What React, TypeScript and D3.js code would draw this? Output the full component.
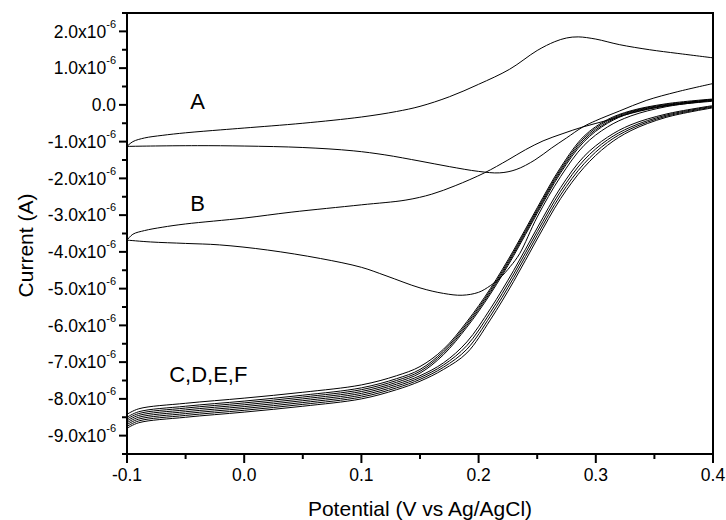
import React from 'react';
import * as d3 from 'd3';

const W = 726;
const H = 520;
const margin = { top: 13, right: 13, bottom: 66, left: 127 };

// axis ticks (current in units of 1e-6 A)
const xTicks = [-0.1, 0.0, 0.1, 0.2, 0.3, 0.4];
const xMinor = [-0.05, 0.05, 0.15, 0.25, 0.35];
const yTicks = [2, 1, 0, -1, -2, -3, -4, -5, -6, -7, -8, -9];
const yMinor = [2.5, 1.5, 0.5, -0.5, -1.5, -2.5, -3.5, -4.5, -5.5, -6.5, -7.5, -8.5, -9.5];

// curve A (potential V, current x1e-6 A)
const aForward = [
  [-0.1, -1.13], [-0.095, -1.0], [-0.085, -0.9], [-0.07, -0.83], [-0.05, -0.76], [-0.02, -0.68],
  [0, -0.63], [0.05, -0.5], [0.1, -0.33], [0.13, -0.18], [0.15, -0.04], [0.175, 0.22],
  [0.2, 0.56], [0.2265, 0.97], [0.25, 1.48], [0.265, 1.72], [0.275, 1.82], [0.285, 1.85],
  [0.3, 1.79], [0.32, 1.64], [0.346, 1.5], [0.37, 1.4], [0.4, 1.28],
];
const aReverse = [
  [-0.1, -1.13], [-0.08, -1.12], [-0.04, -1.11], [0, -1.12], [0.05, -1.16], [0.093, -1.25],
  [0.12, -1.36], [0.15, -1.53], [0.175, -1.68], [0.2, -1.81], [0.218, -1.85], [0.232, -1.76],
  [0.248, -1.5], [0.262, -1.18], [0.275, -0.9], [0.289, -0.6], [0.3, -0.43], [0.32, -0.17],
  [0.343, 0.12], [0.37, 0.36], [0.4, 0.58],
];

// curve B
const bForward = [
  [-0.1, -3.68], [-0.095, -3.52], [-0.085, -3.42], [-0.07, -3.33], [-0.05, -3.24], [0, -3.08],
  [0.04, -2.92], [0.1, -2.72], [0.138, -2.59], [0.16, -2.43], [0.18, -2.2], [0.205, -1.85],
  [0.225, -1.5], [0.24, -1.22], [0.255, -0.98], [0.272, -0.78], [0.289, -0.6], [0.31, -0.42],
  [0.33, -0.23], [0.36, -0.02], [0.4, 0.15],
];
const bReverse = [
  [-0.1, -3.68], [-0.08, -3.73], [-0.05, -3.77], [-0.021, -3.81], [0.02, -3.95], [0.065, -4.18],
  [0.1, -4.42], [0.121, -4.65], [0.15, -4.98], [0.17, -5.13], [0.186, -5.18], [0.2, -5.1],
  [0.21, -4.92], [0.218, -4.72], [0.227, -4.4], [0.235, -4.05], [0.25, -3.05], [0.27, -1.95],
  [0.29, -1.1], [0.31, -0.6], [0.33, -0.3], [0.36, -0.05], [0.4, 0.12],
];

// curves C, D, E, F share one potential grid
const cdefPotential = [
  -0.1, -0.09, -0.05, 0, 0.05, 0.1, 0.13, 0.15, 0.17, 0.19, 0.21, 0.23, 0.25, 0.27, 0.29, 0.31, 0.33, 0.36, 0.4,
];
const cForward = [-8.42, -8.27, -8.12, -7.98, -7.82, -7.62, -7.37, -7.12, -6.65, -5.9, -5.0, -3.95, -2.8, -1.7, -0.85, -0.4, -0.16, 0.03, 0.16];
const cReverse = [-8.65, -8.5, -8.35, -8.21, -8.05, -7.85, -7.6, -7.37, -7.02, -6.45, -5.55, -4.5, -3.35, -2.25, -1.4, -0.88, -0.54, -0.25, -0.02];
const dForward = [-8.5, -8.35, -8.2, -8.06, -7.9, -7.7, -7.45, -7.2, -6.7, -5.95, -5.05, -4.0, -2.85, -1.75, -0.9, -0.43, -0.18, 0.01, 0.14];
const dReverse = [-8.7, -8.55, -8.4, -8.26, -8.1, -7.9, -7.65, -7.42, -7.08, -6.55, -5.65, -4.6, -3.45, -2.35, -1.5, -0.95, -0.6, -0.28, -0.04];
const eForward = [-8.55, -8.4, -8.25, -8.11, -7.95, -7.75, -7.5, -7.25, -6.75, -6.0, -5.1, -4.05, -2.9, -1.8, -0.95, -0.47, -0.2, -0.01, 0.12];
const eReverse = [-8.75, -8.6, -8.45, -8.31, -8.15, -7.95, -7.7, -7.47, -7.14, -6.65, -5.75, -4.7, -3.55, -2.45, -1.6, -1.02, -0.65, -0.31, -0.06];
const fForward = [-8.6, -8.45, -8.3, -8.16, -8.0, -7.8, -7.55, -7.3, -6.8, -6.05, -5.15, -4.1, -2.95, -1.85, -1.0, -0.5, -0.22, -0.03, 0.1];
const fReverse = [-8.8, -8.65, -8.5, -8.36, -8.2, -8.0, -7.75, -7.52, -7.2, -6.75, -5.85, -4.8, -3.65, -2.55, -1.7, -1.1, -0.7, -0.34, -0.08];

const labels = [
  { text: 'A', x: -0.046, y: -0.1 },
  { text: 'B', x: -0.046, y: -2.88 },
  { text: 'C,D,E,F', x: -0.064, y: -7.55 },
];

const fontFamily = '"Liberation Sans", Arial, sans-serif';

const App = () => {
  const innerW = W - margin.left - margin.right;
  const innerH = H - margin.top - margin.bottom;

  const x = d3.scaleLinear().domain([-0.1, 0.4]).range([margin.left, margin.left + innerW]);
  const y = d3.scaleLinear().domain([-9.5, 2.5]).range([margin.top + innerH, margin.top]);

  const line = d3
    .line<number[]>()
    .x(d => x(d[0]))
    .y(d => y(d[1]))
    .curve(d3.curveCatmullRom.alpha(0.5));

  const cdef = [cForward, cReverse, dForward, dReverse, eForward, eReverse, fForward, fReverse].map(vals =>
    cdefPotential.map((p, i) => [p, vals[i]])
  );
  const series = [aForward, aReverse, bForward, bReverse, ...cdef];

  const bottom = margin.top + innerH;
  const left = margin.left;

  return (
    <svg width={W} height={H} style={{ position: 'absolute', left: 0, top: 0, background: '#fff' }}>
      <defs>
        <clipPath id="plot">
          <rect x={left} y={margin.top} width={innerW} height={innerH} />
        </clipPath>
      </defs>

      <g clipPath="url(#plot)" fill="none" stroke="#000" strokeWidth={1}>
        {series.map((s, i) => (
          <path key={i} d={line(s) || ''} />
        ))}
      </g>

      {/* frame */}
      <rect x={left} y={margin.top} width={innerW} height={innerH} fill="none" stroke="#000" strokeWidth={2} />

      {/* y axis ticks */}
      {yTicks.map(t => (
        <line key={'ym' + t} x1={left - 8} x2={left} y1={y(t)} y2={y(t)} stroke="#000" strokeWidth={2} />
      ))}
      {yMinor.map(t => (
        <line key={'yn' + t} x1={left - 5} x2={left} y1={y(t)} y2={y(t)} stroke="#000" strokeWidth={2} />
      ))}
      {yTicks.map(t => (
        <text key={'yl' + t} x={116} y={y(t) + 6.2} textAnchor="end" fontSize={17.5} fontFamily={fontFamily}>
          {t === 0 ? (
            '0.0'
          ) : (
            <>
              {t.toFixed(1) + 'x10'}
              <tspan dy={-10} fontSize={11}>
                -6
              </tspan>
            </>
          )}
        </text>
      ))}

      {/* x axis ticks */}
      {xTicks.map(t => (
        <line key={'xm' + t} x1={x(t)} x2={x(t)} y1={bottom} y2={bottom + 9} stroke="#000" strokeWidth={2} />
      ))}
      {xMinor.map(t => (
        <line key={'xn' + t} x1={x(t)} x2={x(t)} y1={bottom} y2={bottom + 5} stroke="#000" strokeWidth={2} />
      ))}
      {xTicks.map(t => (
        <text key={'xl' + t} x={x(t)} y={bottom + 27} textAnchor="middle" fontSize={17.5} fontFamily={fontFamily}>
          {t.toFixed(1)}
        </text>
      ))}

      {/* axis titles */}
      <text x={420} y={516} textAnchor="middle" fontSize={21} fontFamily={fontFamily}>
        Potential (V vs Ag/AgCl)
      </text>
      <text
        transform={`translate(33,${(margin.top + bottom) / 2 + 12}) rotate(-90)`}
        textAnchor="middle"
        fontSize={21}
        fontFamily={fontFamily}
      >
        Current (A)
      </text>

      {labels.map(l => (
        <text key={l.text} x={x(l.x)} y={y(l.y)} fontSize={22} fontFamily={fontFamily}>
          {l.text}
        </text>
      ))}
    </svg>
  );
};

export default App;
